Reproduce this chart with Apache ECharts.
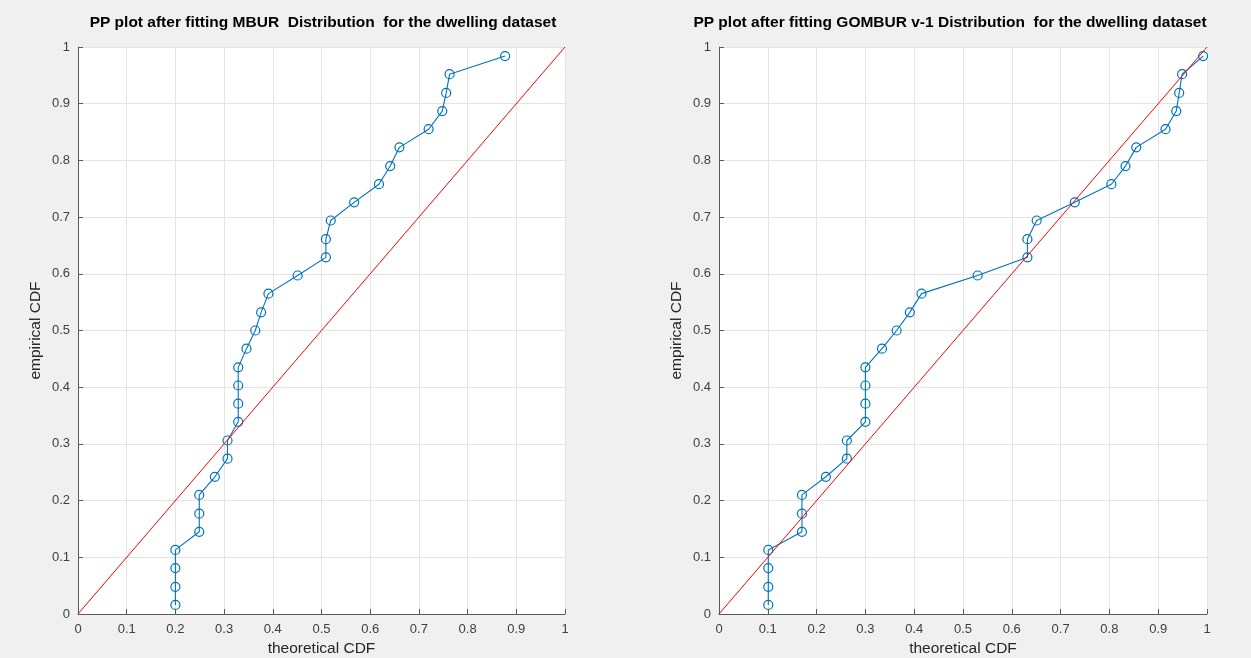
<!DOCTYPE html>
<html>
<head>
<meta charset="utf-8">
<script src="https://cdn.jsdelivr.net/npm/echarts@6/dist/echarts.min.js"></script>
<style>
html,body{margin:0;padding:0;background:#f0f0f0;}
#c{width:1251px;height:658px;}
</style>
</head>
<body>
<div id="c"></div>
<script>
// Empirical CDF values (shared by both panels)
const empiricalCDF = [0.016, 0.048, 0.081, 0.113, 0.145, 0.177, 0.210, 0.242, 0.274, 0.306, 0.339, 0.371, 0.403, 0.435, 0.468, 0.500, 0.532, 0.565, 0.597, 0.629, 0.661, 0.694, 0.726, 0.758, 0.790, 0.823, 0.855, 0.887, 0.919, 0.952, 0.984];
// Theoretical CDF, MBUR fit (left panel)
const theoMBUR = [0.200, 0.200, 0.200, 0.200, 0.249, 0.249, 0.249, 0.281, 0.307, 0.307, 0.329, 0.329, 0.329, 0.329, 0.346, 0.364, 0.376, 0.391, 0.451, 0.509, 0.509, 0.519, 0.567, 0.618, 0.641, 0.660, 0.720, 0.748, 0.756, 0.763, 0.877];
// Theoretical CDF, GOMBUR v-1 fit (right panel)
const theoGOMBUR = [0.101, 0.101, 0.101, 0.101, 0.170, 0.170, 0.170, 0.219, 0.262, 0.262, 0.300, 0.300, 0.300, 0.300, 0.334, 0.364, 0.391, 0.415, 0.530, 0.632, 0.632, 0.651, 0.729, 0.804, 0.833, 0.855, 0.915, 0.937, 0.943, 0.949, 0.992];
const refLine = [[0, 0], [1, 1]];
const titles = ['PP plot after fitting MBUR  Distribution  for the dwelling dataset',
                'PP plot after fitting GOMBUR v-1 Distribution  for the dwelling dataset'];
const xName = 'theoretical CDF';
const yName = 'empirical CDF';

const chart = echarts.init(document.getElementById('c'), null, {renderer: 'canvas'});
const FONT = '"Liberation Sans", Arial, Helvetica, sans-serif';

function mkX(gi) {
  return {
    gridIndex: gi, type: 'value', min: 0, max: 1, interval: 0.1,
    name: xName, nameLocation: 'middle', nameGap: 24,
    nameTextStyle: {fontFamily: FONT, fontSize: 15.5, color: '#262626'},
    axisLine: {show: true, onZero: false, lineStyle: {color: '#5a5a5a', width: 1}},
    axisTick: {show: true, inside: true, length: 5, lineStyle: {color: '#5a5a5a'}},
    axisLabel: {fontFamily: FONT, fontSize: 13, color: '#404040', margin: 9},
    splitLine: {show: true, lineStyle: {color: '#e4e4e4', width: 1}}
  };
}
function mkY(gi) {
  return {
    gridIndex: gi, type: 'value', min: 0, max: 1, interval: 0.1,
    name: yName, nameLocation: 'middle', nameGap: 34, nameRotate: 90,
    nameTextStyle: {fontFamily: FONT, fontSize: 15.5, color: '#262626'},
    axisLine: {show: true, onZero: false, lineStyle: {color: '#5a5a5a', width: 1}},
    axisTick: {show: true, inside: true, length: 5, lineStyle: {color: '#5a5a5a'}},
    axisLabel: {fontFamily: FONT, fontSize: 13, color: '#404040', margin: 8},
    splitLine: {show: true, lineStyle: {color: '#e4e4e4', width: 1}}
  };
}
function pairs(xs, ys) { return xs.map((x, i) => [x, ys[i]]); }
function ppSeries(gi, xs) {
  return {
    type: 'line', xAxisIndex: gi, yAxisIndex: gi,
    data: pairs(xs, empiricalCDF),
    symbol: 'circle', symbolSize: 9,
    itemStyle: {color: 'rgba(0,0,0,0)', borderColor: '#0072BD', borderWidth: 1.2},
    lineStyle: {color: '#0072BD', width: 1.1},
    animation: false, z: 2
  };
}
function refSeries(gi) {
  return {
    type: 'line', xAxisIndex: gi, yAxisIndex: gi, data: refLine,
    symbol: 'none', lineStyle: {color: '#ff0000', width: 1},
    animation: false, z: 3
  };
}

chart.setOption({
  backgroundColor: '#f0f0f0',
  animation: false,
  title: [
    {text: titles[0], left: 318, top: 10, textAlign: 'center',
     textStyle: {fontFamily: FONT, fontSize: 15.5, fontWeight: 'bold', color: '#000'}},
    {text: titles[1], left: 945, top: 10, textAlign: 'center',
     textStyle: {fontFamily: FONT, fontSize: 15.5, fontWeight: 'bold', color: '#000'}}
  ],
  grid: [
    {left: 78, top: 47, width: 487, height: 567, show: true, backgroundColor: '#ffffff', borderWidth: 0,
     containLabel: false, outerBoundsMode: 'none'},
    {left: 719, top: 47, width: 488, height: 567, show: true, backgroundColor: '#ffffff', borderWidth: 0,
     containLabel: false, outerBoundsMode: 'none'}
  ],
  xAxis: [mkX(0), mkX(1)],
  yAxis: [mkY(0), mkY(1)],
  series: [ppSeries(0, theoMBUR), refSeries(0), ppSeries(1, theoGOMBUR), refSeries(1)]
});
</script>
</body>
</html>
